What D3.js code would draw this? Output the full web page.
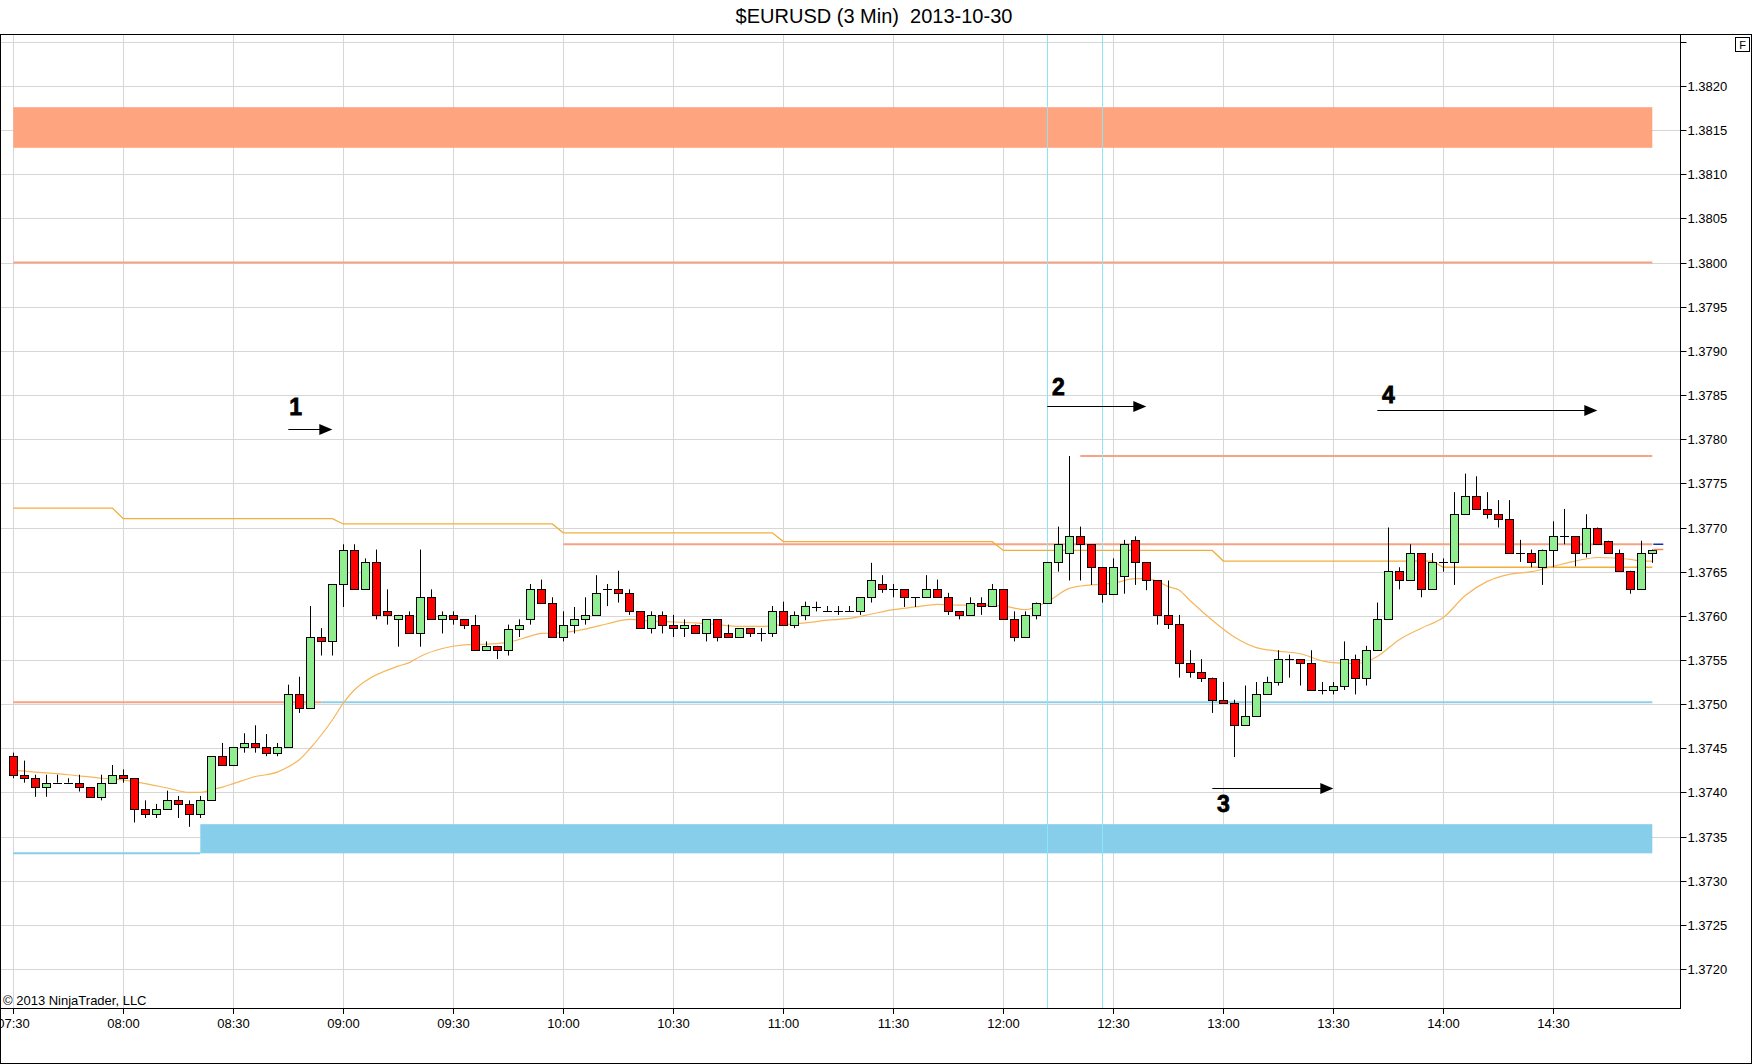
<!DOCTYPE html>
<html><head><meta charset="utf-8">
<script src="https://cdn.jsdelivr.net/npm/d3@7"></script>
<style>body{margin:0;background:#fff}svg{display:block}text{font-family:"Liberation Sans",Arial,sans-serif}</style>
</head><body><svg id="c" width="1752" height="1064"></svg>
<script>
// ---------------- DATA ----------------
const chartTitle = "$EURUSD (3 Min)  2013-10-30";
const copyright = "\u00A9 2013 NinjaTrader, LLC";
const sessionDay = "2013-10-30";
const firstBar = "07:30";
const barMinutes = 3;
const priceTicks = [1.3720,1.3725,1.3730,1.3735,1.3740,1.3745,1.3750,1.3755,1.3760,1.3765,1.3770,1.3775,1.3780,1.3785,1.3790,1.3795,1.3800,1.3805,1.3810,1.3815,1.3820,1.3825];
const timeTicks = ["07:30","08:00","08:30","09:00","09:30","10:00","10:30","11:00","11:30","12:00","12:30","13:00","13:30","14:00","14:30"];

const opens = [
1.37441,1.37420,1.37416,1.37406,1.37411,1.37411,1.37411,1.37406,1.37395,1.37411,
1.37420,1.37416,1.37381,1.37376,1.37381,1.37391,1.37387,1.37376,1.37391,1.37441,
1.37431,1.37451,1.37456,1.37451,1.37445,1.37451,1.37511,1.37496,1.37576,1.37571,
1.37636,1.37675,1.37630,1.37661,1.37605,1.37596,1.37601,1.37580,1.37621,1.37596,
1.37601,1.37596,1.37590,1.37561,1.37566,1.37561,1.37585,1.37596,1.37630,1.37615,
1.37576,1.37590,1.37596,1.37601,1.37630,1.37630,1.37626,1.37605,1.37586,1.37601,
1.37590,1.37586,1.37590,1.37580,1.37596,1.37580,1.37576,1.37586,1.37580,1.37580,
1.37605,1.37590,1.37601,1.37610,1.37605,1.37605,1.37605,1.37605,1.37621,1.37636,
1.37630,1.37630,1.37621,1.37621,1.37630,1.37621,1.37605,1.37601,1.37615,1.37611,
1.37630,1.37596,1.37576,1.37601,1.37615,1.37661,1.37671,1.37690,1.37681,1.37655,
1.37625,1.37645,1.37686,1.37661,1.37640,1.37601,1.37591,1.37546,1.37536,1.37530,
1.37505,1.37501,1.37476,1.37487,1.37511,1.37525,1.37551,1.37551,1.37546,1.37516,
1.37516,1.37521,1.37551,1.37530,1.37561,1.37596,1.37651,1.37641,1.37671,1.37630,
1.37661,1.37661,1.37715,1.37736,1.37721,1.37715,1.37710,1.37671,1.37671,1.37655,
1.37675,1.37690,1.37690,1.37671,1.37700,1.37685,1.37671,1.37651,1.37630,1.37671];
const highs = [
1.37445,1.37436,1.37420,1.37420,1.37420,1.37416,1.37420,1.37406,1.37420,1.37431,
1.37426,1.37416,1.37391,1.37387,1.37402,1.37396,1.37391,1.37396,1.37441,1.37456,
1.37451,1.37467,1.37476,1.37466,1.37456,1.37522,1.37531,1.37611,1.37586,1.37636,
1.37681,1.37681,1.37665,1.37675,1.37630,1.37601,1.37605,1.37675,1.37630,1.37605,
1.37605,1.37596,1.37601,1.37571,1.37566,1.37590,1.37596,1.37636,1.37641,1.37621,
1.37605,1.37610,1.37621,1.37646,1.37636,1.37651,1.37630,1.37605,1.37605,1.37605,
1.37601,1.37596,1.37590,1.37596,1.37596,1.37590,1.37586,1.37586,1.37586,1.37611,
1.37616,1.37605,1.37616,1.37616,1.37611,1.37611,1.37611,1.37621,1.37660,1.37646,
1.37636,1.37630,1.37621,1.37646,1.37641,1.37626,1.37605,1.37621,1.37621,1.37636,
1.37630,1.37605,1.37605,1.37615,1.37661,1.37701,1.37781,1.37701,1.37681,1.37655,
1.37665,1.37686,1.37690,1.37661,1.37640,1.37640,1.37601,1.37561,1.37551,1.37530,
1.37525,1.37505,1.37521,1.37525,1.37531,1.37561,1.37556,1.37551,1.37561,1.37525,
1.37525,1.37571,1.37556,1.37566,1.37615,1.37700,1.37655,1.37681,1.37671,1.37671,
1.37665,1.37740,1.37761,1.37758,1.37740,1.37731,1.37731,1.37686,1.37675,1.37675,
1.37707,1.37721,1.37690,1.37715,1.37700,1.37685,1.37675,1.37651,1.37685,1.37675];
const lows = [
1.37416,1.37411,1.37395,1.37395,1.37411,1.37411,1.37401,1.37395,1.37391,1.37411,
1.37411,1.37366,1.37371,1.37371,1.37381,1.37371,1.37361,1.37371,1.37391,1.37431,
1.37431,1.37445,1.37445,1.37441,1.37441,1.37451,1.37490,1.37496,1.37555,1.37555,
1.37610,1.37630,1.37630,1.37596,1.37590,1.37565,1.37580,1.37565,1.37596,1.37580,
1.37590,1.37585,1.37561,1.37561,1.37551,1.37555,1.37576,1.37590,1.37615,1.37576,
1.37571,1.37580,1.37590,1.37601,1.37611,1.37615,1.37601,1.37586,1.37580,1.37580,
1.37576,1.37576,1.37580,1.37571,1.37571,1.37576,1.37576,1.37576,1.37571,1.37576,
1.37590,1.37586,1.37595,1.37605,1.37605,1.37601,1.37605,1.37601,1.37615,1.37626,
1.37621,1.37610,1.37610,1.37621,1.37621,1.37601,1.37596,1.37601,1.37601,1.37611,
1.37596,1.37571,1.37576,1.37596,1.37615,1.37650,1.37640,1.37640,1.37635,1.37615,
1.37625,1.37625,1.37635,1.37629,1.37590,1.37585,1.37530,1.37530,1.37525,1.37490,
1.37501,1.37440,1.37476,1.37487,1.37511,1.37521,1.37530,1.37521,1.37516,1.37511,
1.37511,1.37516,1.37511,1.37521,1.37561,1.37596,1.37630,1.37641,1.37621,1.37630,
1.37650,1.37635,1.37715,1.37721,1.37710,1.37700,1.37671,1.37661,1.37655,1.37635,
1.37655,1.37681,1.37656,1.37666,1.37681,1.37671,1.37651,1.37625,1.37630,1.37660];
const closes = [
1.37420,1.37416,1.37406,1.37411,1.37411,1.37411,1.37406,1.37395,1.37411,1.37420,
1.37416,1.37381,1.37376,1.37381,1.37391,1.37387,1.37376,1.37391,1.37441,1.37431,
1.37451,1.37456,1.37451,1.37445,1.37451,1.37511,1.37496,1.37576,1.37571,1.37636,
1.37675,1.37630,1.37661,1.37601,1.37601,1.37601,1.37580,1.37621,1.37596,1.37601,
1.37596,1.37590,1.37561,1.37566,1.37561,1.37585,1.37590,1.37630,1.37615,1.37576,
1.37590,1.37596,1.37601,1.37626,1.37630,1.37626,1.37605,1.37586,1.37601,1.37590,
1.37586,1.37590,1.37580,1.37596,1.37576,1.37576,1.37586,1.37580,1.37580,1.37605,
1.37590,1.37601,1.37611,1.37610,1.37605,1.37605,1.37605,1.37621,1.37640,1.37630,
1.37630,1.37621,1.37621,1.37630,1.37621,1.37605,1.37601,1.37615,1.37611,1.37630,
1.37596,1.37576,1.37601,1.37615,1.37661,1.37681,1.37690,1.37681,1.37655,1.37625,
1.37655,1.37681,1.37661,1.37640,1.37601,1.37591,1.37546,1.37536,1.37530,1.37505,
1.37501,1.37476,1.37487,1.37511,1.37525,1.37551,1.37551,1.37546,1.37516,1.37516,
1.37521,1.37551,1.37530,1.37561,1.37596,1.37651,1.37641,1.37671,1.37630,1.37661,
1.37661,1.37715,1.37736,1.37721,1.37715,1.37710,1.37671,1.37671,1.37661,1.37675,
1.37690,1.37690,1.37671,1.37700,1.37681,1.37671,1.37651,1.37630,1.37671,1.37675];

// moving average (bar index -> value)
const emaBars = [0,2,5,8,10,12,14,16,17,18,19,20,21,22,23,24,25,26,27,28,29,30,31,32,35,36,37,39,41,43,45,47,48,50,52,54,56,58,60,62,64,66,68,70,72,74,76,78,80,82,84,86,88,90,92,94,96,98,100,102,103,104,105,106,107,109,111,113,115,117,119,120,122,123,124,126,128,130,132,134,136,138,140,142,144,146,147,148,149];
const emaValues = [1.37425,1.37423,1.37420,1.37416,1.37414,1.37410,1.37405,1.37400,1.37400,1.37403,1.37406,1.37410,1.37414,1.37418,1.37420,1.37423,1.37429,1.37437,1.37450,1.37465,1.37482,1.37501,1.37516,1.37526,1.37543,1.37547,1.37554,1.37563,1.37567,1.37568,1.37570,1.37577,1.37580,1.37581,1.37585,1.37591,1.37596,1.37594,1.37593,1.37592,1.37590,1.37588,1.37588,1.37590,1.37592,1.37595,1.37597,1.37602,1.37607,1.37610,1.37613,1.37612,1.37612,1.37611,1.37607,1.37616,1.37631,1.37635,1.37637,1.37642,1.37642,1.37639,1.37633,1.37629,1.37617,1.37595,1.37576,1.37564,1.37560,1.37557,1.37549,1.37547,1.37546,1.37548,1.37554,1.37573,1.37586,1.37598,1.37623,1.37639,1.37647,1.37650,1.37656,1.37662,1.37666,1.37665,1.37664,1.37662,1.37662];

// hourly stepped level
const stepTimes = ["07:30","08:00","09:00","10:00","11:00","12:00","13:00","14:00"];
const stepValues = [1.37722,1.37710,1.37704,1.37694,1.37684,1.37674,1.37662,1.37655];

// zones and levels
const supplyZone = [1.38130, 1.38176];
const demandZone = [1.37331, 1.37364];
const demandZoneStart = "08:21";
const lastBarTime = "14:57";
const level1380 = 1.3800;
const level1375 = 1.37502;
const level1375BlueFrom = "08:54";
const level13778 = 1.37781;
const level13778Start = "12:21";
const level13768 = 1.37681;
const level13768Start = "10:00";
const verticalMarks = ["12:12","12:27"];

// annotations
const annoLabels = ["1","2","3","4"];
const annoLabelTimes = ["08:47","12:15","13:00","13:45"];
const annoLabelPrices = [1.37827,1.37850,1.37378,1.37841];
const arrowFrom = ["08:45","12:12","12:57","13:42"];
const arrowTo = ["08:57","12:39","13:30","14:42"];
const arrowPrices = [1.37811,1.37838,1.37405,1.37833];

// ---------------- DRAW ----------------
const W = 1752, H = 1064;
const plotL = 1, plotR = 1680.5, plotT = 34, plotB = 1008;
const parse = d3.timeParse("%Y-%m-%d %H:%M");
const T = s => parse(sessionDay + " " + s);
const t0 = T(firstBar);
const barTime = i => d3.timeMinute.offset(t0, barMinutes * i);
const x = d3.scaleTime().domain([t0, d3.timeMinute.offset(t0, barMinutes * 150)]).range([13.3, 13.3 + 11 * 150]);
const y = d3.scaleLinear().domain([1.3720, 1.3820]).range([969, 86]);
const px = v => Math.round(v) + 0.5;

const svg = d3.select("#c");
svg.append("rect").attr("width", W).attr("height", H).attr("fill", "#fff");

const defs = svg.append("defs");
defs.append("clipPath").attr("id", "plot").append("rect")
  .attr("x", plotL).attr("y", plotT).attr("width", plotR - plotL).attr("height", plotB - plotT);

// title
svg.append("text").attr("x", 874).attr("y", 23).attr("text-anchor", "middle")
  .attr("font-size", 20).attr("fill", "#000").style("white-space", "pre").text(chartTitle);

const g = svg.append("g").attr("clip-path", "url(#plot)");

// grid
g.selectAll(".hg").data(priceTicks).join("line")
  .attr("x1", plotL).attr("x2", plotR).attr("y1", d => px(y(d))).attr("y2", d => px(y(d)))
  .attr("stroke", "#d6d6d6").attr("stroke-width", 1);
g.selectAll(".vg").data(timeTicks).join("line")
  .attr("x1", d => px(x(T(d)))).attr("x2", d => px(x(T(d)))).attr("y1", plotT).attr("y2", plotB)
  .attr("stroke", "#d6d6d6").attr("stroke-width", 1);

const xEnd = x(T(lastBarTime));
// zones
g.append("rect").attr("x", x(t0)).attr("width", xEnd - x(t0))
  .attr("y", y(supplyZone[1])).attr("height", y(supplyZone[0]) - y(supplyZone[1]))
  .attr("fill", "#fea47e");
g.append("rect").attr("x", x(T(demandZoneStart))).attr("width", xEnd - x(T(demandZoneStart)))
  .attr("y", y(demandZone[1])).attr("height", y(demandZone[0]) - y(demandZone[1]))
  .attr("fill", "#87ceeb");
g.append("line").attr("x1", x(t0)).attr("x2", x(T(demandZoneStart)))
  .attr("y1", y(demandZone[0])).attr("y2", y(demandZone[0]))
  .attr("stroke", "#87ceeb").attr("stroke-width", 2);

// levels
const hline = (v, a, b, col, w) => g.append("line").attr("x1", a).attr("x2", b)
  .attr("y1", y(v)).attr("y2", y(v)).attr("stroke", col).attr("stroke-width", w);
hline(level1380, x(t0), xEnd, "#f7a283", 2);
hline(level1375, x(t0), x(T(level1375BlueFrom)), "#f7a283", 2);
hline(level1375, x(T(level1375BlueFrom)), xEnd, "#8fd0e8", 2);
hline(level13778, x(T(level13778Start)), xEnd, "#f7a283", 2);
hline(level13768, x(T(level13768Start)), xEnd, "#f7a283", 2);

// vertical cyan marks
g.selectAll(".vm").data(verticalMarks).join("line")
  .attr("x1", d => px(x(T(d)))).attr("x2", d => px(x(T(d)))).attr("y1", plotT).attr("y2", plotB)
  .attr("stroke", "#8ee4f2").attr("stroke-width", 1);

// stepped hourly line
const stepPts = [];
stepTimes.forEach((s, k) => {
  const start = T(s);
  stepPts.push([x(start), y(stepValues[k])]);
  const nextStart = k + 1 < stepTimes.length ? T(stepTimes[k + 1]) : null;
  if (nextStart) stepPts.push([x(d3.timeMinute.offset(nextStart, -barMinutes)), y(stepValues[k])]);
  else stepPts.push([xEnd, y(stepValues[k])]);
});
g.append("path").attr("d", d3.line()(stepPts)).attr("fill", "none")
  .attr("stroke", "#f2ad3a").attr("stroke-width", 1.3);

// moving average
g.append("path").attr("d", d3.line().curve(d3.curveMonotoneX)
    .x((d, k) => x(barTime(emaBars[k]))).y(d => y(d))(emaValues))
  .attr("fill", "none").attr("stroke", "#f6b65a").attr("stroke-width", 1.2);

// candles
const bars = opens.map((o, i) => ({i, o, h: highs[i], l: lows[i], c: closes[i]}));
const cg = g.append("g");
bars.forEach(b => {
  const cx = px(x(barTime(b.i)));
  cg.append("line").attr("x1", cx).attr("x2", cx).attr("y1", y(b.h)).attr("y2", y(b.l))
    .attr("stroke", "#000").attr("stroke-width", 1);
  const top = y(Math.max(b.o, b.c)), bot = y(Math.min(b.o, b.c));
  if (bot - top < 1.5) {
    const yy = px(y(b.o));
    cg.append("line").attr("x1", cx - 4.5).attr("x2", cx + 4.5).attr("y1", yy).attr("y2", yy)
      .attr("stroke", "#000").attr("stroke-width", 1);
  } else {
    cg.append("rect").attr("x", cx - 4).attr("width", 8)
      .attr("y", Math.round(top) + 0.5).attr("height", Math.round(bot) - Math.round(top))
      .attr("fill", b.c > b.o ? "#90ee90" : "#ff0000").attr("stroke", "#000").attr("stroke-width", 1);
  }
});

// last price markers
g.append("line").attr("x1", xEnd + 1).attr("x2", xEnd + 11).attr("y1", y(level13768)).attr("y2", y(level13768))
  .attr("stroke", "#1a2fb0").attr("stroke-width", 1.5);
g.append("line").attr("x1", xEnd + 1).attr("x2", xEnd + 11).attr("y1", y(closes[closes.length - 1])).attr("y2", y(closes[closes.length - 1]))
  .attr("stroke", "#f08a5a").attr("stroke-width", 1.5);

// annotations
const ag = svg.append("g");
annoLabels.forEach((lab, k) => {
  const x1 = x(T(arrowFrom[k])), x2 = x(T(arrowTo[k])), yy = px(y(arrowPrices[k]));
  ag.append("line").attr("x1", x1).attr("x2", x2 - 10).attr("y1", yy).attr("y2", yy)
    .attr("stroke", "#000").attr("stroke-width", 1);
  ag.append("path").attr("d", `M${x2},${yy}L${x2 - 13},${yy - 5.5}L${x2 - 13},${yy + 5.5}Z`).attr("fill", "#000");
  ag.append("text").attr("x", x(T(annoLabelTimes[k]))).attr("y", y(annoLabelPrices[k]))
    .attr("text-anchor", "middle").attr("font-size", 23).attr("font-weight", "bold")
    .attr("fill", "#000").attr("stroke", "#000").attr("stroke-width", 0.8).text(lab);
});

// frame & axes
svg.append("rect").attr("x", 0.5).attr("y", plotT + 0.5).attr("width", W - 1).attr("height", H - plotT - 1)
  .attr("fill", "none").attr("stroke", "#000");
svg.append("line").attr("x1", 0).attr("x2", plotR).attr("y1", plotB + 0.5).attr("y2", plotB + 0.5).attr("stroke", "#000");
svg.append("line").attr("x1", plotR).attr("x2", plotR).attr("y1", plotT).attr("y2", plotB + 1).attr("stroke", "#000");

// right price axis
const ra = svg.append("g");
priceTicks.forEach(v => {
  const yy = px(y(v));
  ra.append("line").attr("x1", plotR).attr("x2", plotR + 6).attr("y1", yy).attr("y2", yy).attr("stroke", "#000");
  if (v < 1.38225) ra.append("text").attr("x", plotR + 7).attr("y", yy + 4.5)
    .attr("font-size", 13).attr("fill", "#000").text(d3.format(".4f")(v));
});

// bottom time axis
const ba = svg.append("g");
timeTicks.forEach(s => {
  const xx = px(x(T(s)));
  ba.append("line").attr("x1", xx).attr("x2", xx).attr("y1", plotB).attr("y2", plotB + 6).attr("stroke", "#000");
  ba.append("text").attr("x", xx).attr("y", plotB + 20).attr("text-anchor", "middle")
    .attr("font-size", 13).attr("fill", "#000").text(s);
});

svg.append("text").attr("x", 3).attr("y", 1005).attr("font-size", 13).attr("fill", "#000").text(copyright);

// F box
svg.append("rect").attr("x", 1735.5).attr("y", 37.5).attr("width", 14).attr("height", 14).attr("fill", "#fff").attr("stroke", "#000");
svg.append("text").attr("x", 1742.5).attr("y", 49).attr("text-anchor", "middle").attr("font-size", 11).text("F");
</script></body></html>
